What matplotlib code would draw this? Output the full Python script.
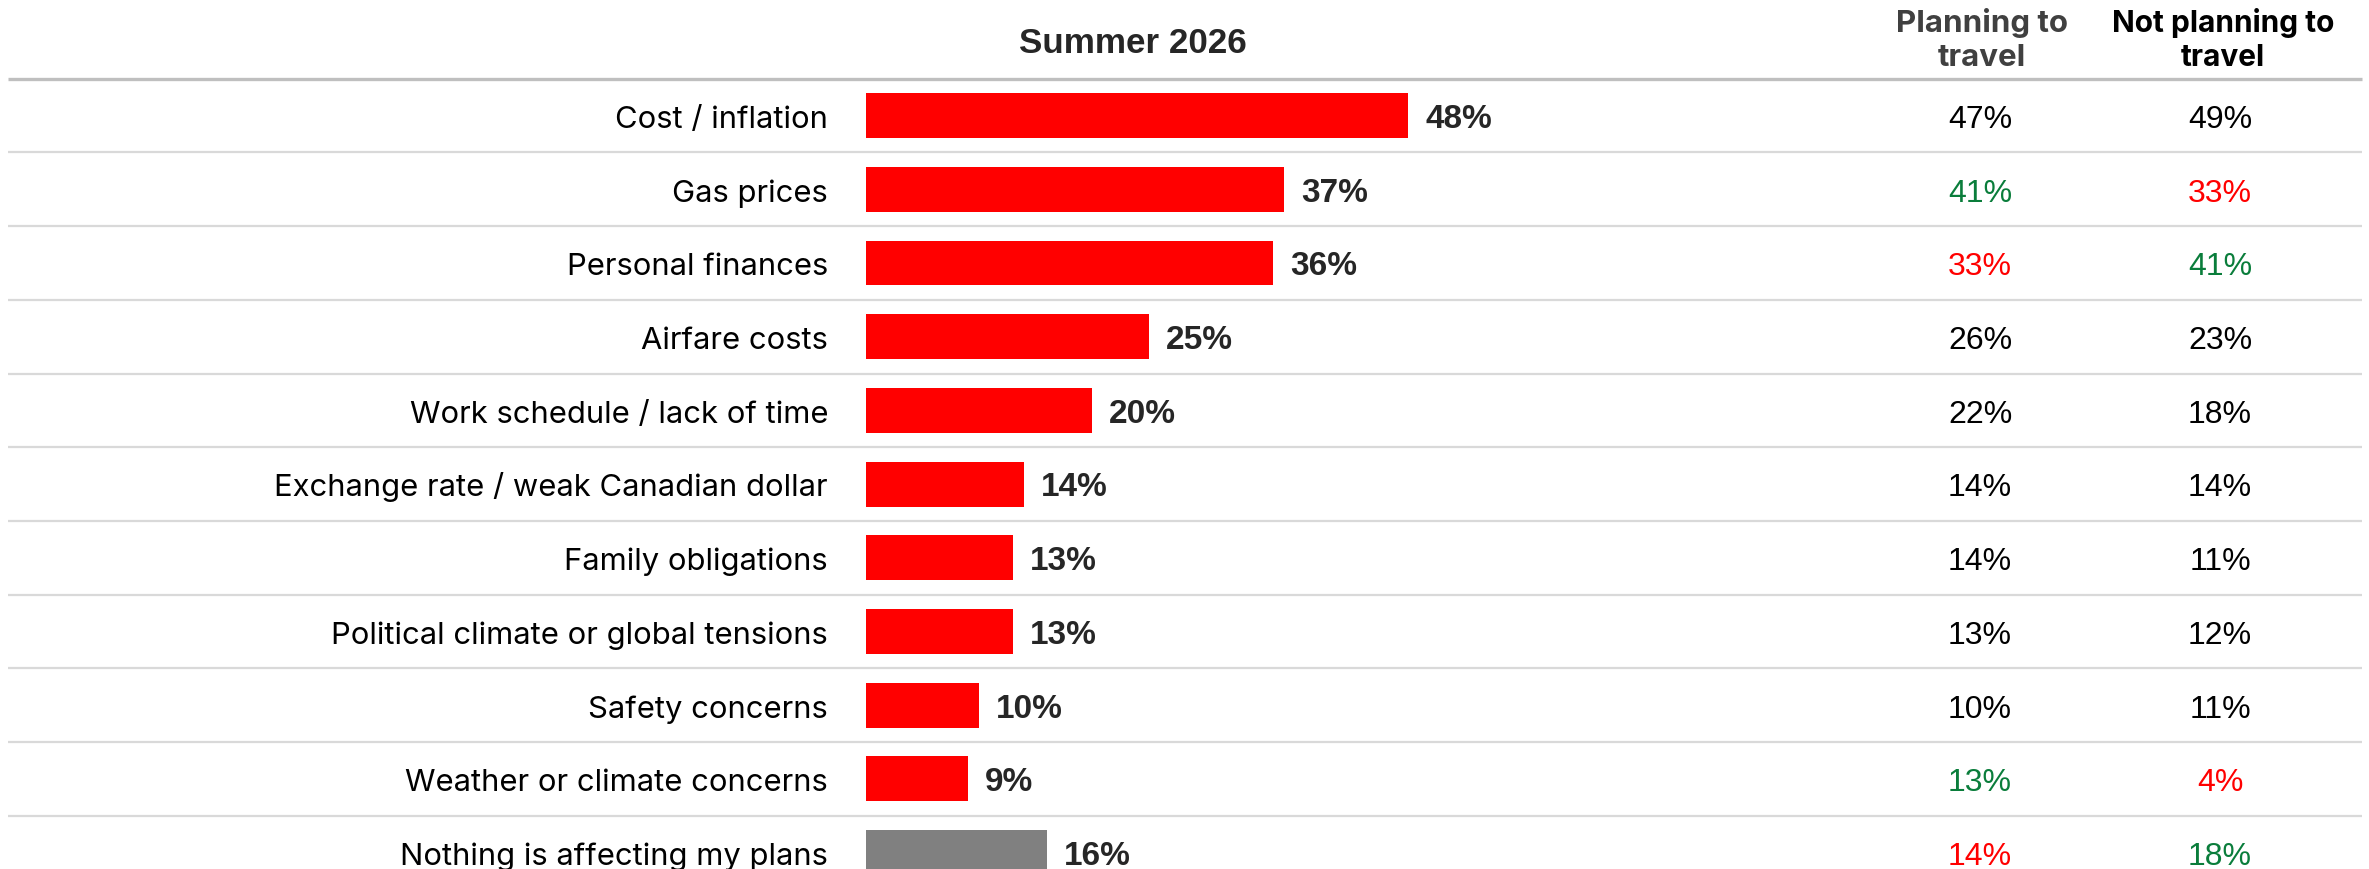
import matplotlib
matplotlib.use("Agg")
import matplotlib.pyplot as plt

# ---- data ----
categories = [
    "Cost / inflation",
    "Gas prices",
    "Personal finances",
    "Airfare costs",
    "Work schedule / lack of time",
    "Exchange rate / weak Canadian dollar",
    "Family obligations",
    "Political climate or global tensions",
    "Safety concerns",
    "Weather or climate concerns",
    "Nothing is affecting my plans",
]
summer_2026 = [48, 37, 36, 25, 20, 14, 13, 13, 10, 9, 16]
planning = [47, 41, 33, 26, 22, 14, 14, 13, 10, 13, 14]
not_planning = [49, 33, 41, 23, 18, 14, 11, 12, 11, 4, 18]
# significance flags: 1 = higher (green), -1 = lower (red), 0 = none
planning_sig = [0, 1, -1, 0, 0, 0, 0, 0, 0, 1, -1]
not_planning_sig = [0, -1, 1, 0, 0, 0, 0, 0, 0, -1, 1]
bar_colors = ["#FF0000"] * 10 + ["#808080"]
header_main = "Summer 2026"
header_cols = ["Planning to\ntravel", "Not planning to\ntravel"]

sig_color = {0: "#000000", 1: "#0A7D3B", -1: "#FF0000"}

plt.rcParams["font.family"] = ["Inter", "DejaVu Sans"]
ARIAL = ["Liberation Sans", "DejaVu Sans"]

W, H, DPI = 2369, 869, 100
fig = plt.figure(figsize=(W / DPI, H / DPI), dpi=DPI)
ax = fig.add_axes([0, 0, 1, 1])
ax.set_axis_off()

# pixel geometry -> data units
x0_px = 866.0      # bar origin
px_per = 11.3      # pixels per percentage point
row0_px = 115.6    # center of first row (from top)
row_px = 73.7      # row pitch

def xd(px):
    return (px - x0_px) / px_per

def yd(py):
    return (py - row0_px) / row_px

ax.set_xlim(xd(0), xd(W))
ax.set_ylim(yd(H), yd(0))

n = len(categories)
ys = list(range(n))

ax.barh(ys, summer_2026, height=0.61, color=bar_colors, left=0, zorder=3)

base_off = 12.4 / row_px   # baseline offset below row centre
for i, (cat, v) in enumerate(zip(categories, summer_2026)):
    yb = i + base_off
    ax.text(xd(828), yb, cat, ha="right", va="baseline", fontsize=22.3,
            color="#000000")
    ax.text(v + xd(x0_px + 17), yb, f"{v}%", ha="left", va="baseline",
            fontsize=24, fontweight="bold", color="#262626", family=ARIAL)
    ax.text(xd(1980), yb, f"{planning[i]}%", ha="center", va="baseline",
            fontsize=23, color=sig_color[planning_sig[i]], family=ARIAL)
    ax.text(xd(2220), yb, f"{not_planning[i]}%", ha="center", va="baseline",
            fontsize=23, color=sig_color[not_planning_sig[i]], family=ARIAL)

# separators
for k in range(n):
    yl = k + 0.5
    ax.plot([xd(8), xd(2362)], [yl, yl], color="#D9D9D9", lw=1.6, zorder=1,
            solid_capstyle="butt")
ax.plot([xd(8), xd(2362)], [-0.5, -0.5], color="#BFBFBF", lw=2.4, zorder=2,
        solid_capstyle="butt")

# headers
ax.text(xd(1133), yd(53), header_main, ha="center", va="baseline",
        fontsize=25.2, fontweight="bold", color="#262626", family=ARIAL)
col_x = [1982, 2223]
col_c = ["#404040", "#000000"]
col_fs = [22.5, 21.5]
for hx, hc, hfs, htxt in zip(col_x, col_c, col_fs, header_cols):
    for line, by in zip(htxt.split("\n"), [32, 66]):
        ax.text(xd(hx), yd(by), line, ha="center", va="baseline",
                fontsize=hfs, fontweight="bold", color=hc)

fig.savefig("out.png", dpi=DPI)
